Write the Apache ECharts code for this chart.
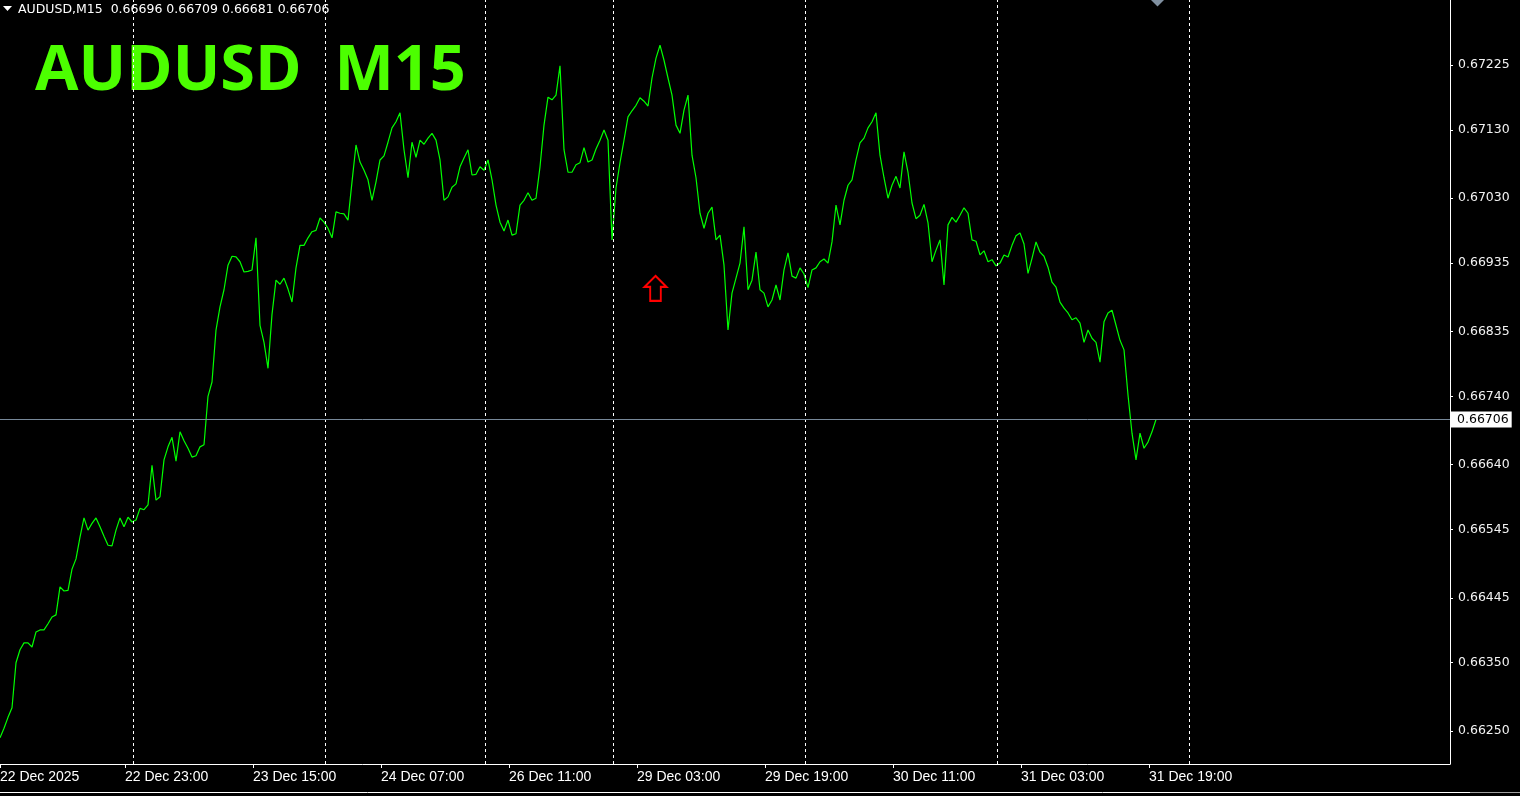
<!DOCTYPE html>
<html>
<head>
<meta charset="utf-8">
<script src="https://cdn.jsdelivr.net/npm/echarts@6/dist/echarts.min.js"></script>
<style>
html,body{margin:0;padding:0;background:#000;}
#chart{width:1520px;height:796px;}
</style>
</head>
<body>
<div id="chart"></div>
<script>
// ---------- data ----------
const symbolTitle = 'AUDUSD  M15';
const headerText = 'AUDUSD,M15  0.66696 0.66709 0.66681 0.66706';
const lastPrice = 0.66706;

// close prices sampled every 2 M15 bars, starting at the first visible bar
const BAR_STEP = 2;
const closes = [
  0.66240,0.66254,0.66270,0.66284,0.66350,0.66369,0.66379,0.66379,0.66373,0.66395,
  0.66398,0.66398,0.66407,0.66417,0.66420,0.66461,0.66455,0.66456,0.66487,0.66502,
  0.66534,0.66562,0.66544,0.66554,0.66562,0.66549,0.66535,0.66522,0.66521,0.66544,
  0.66562,0.66549,0.66563,0.66556,0.66559,0.66576,0.66574,0.66581,0.66639,0.66588,
  0.66593,0.66647,0.66666,0.66680,0.66645,0.66688,0.66675,0.66664,0.66651,0.66653,
  0.66666,0.66669,
  0.66740,0.66761,0.66837,0.66871,0.66896,0.66932,0.66945,0.66944,0.66937,0.66922,
  0.66923,0.66925,0.66972,0.66844,0.66819,0.66781,0.66860,0.66910,0.66904,0.66913,
  0.66897,0.66878,0.66928,0.66961,0.66961,0.66972,0.66981,0.66983,0.67001,0.66995,
  0.66986,0.66972,0.67010,0.67008,0.67007,0.66998,0.67054,0.67108,0.67083,0.67071,
  0.67057,0.67027,0.67054,0.67086,0.67092,0.67112,0.67133,0.67142,0.67155,0.67101,
  0.67060,0.67112,0.67090,0.67115,0.67109,0.67118,0.67125,0.67115,0.67086,0.67027,
  0.67032,0.67046,0.67051,0.67076,0.67089,0.67101,0.67064,0.67065,0.67076,0.67071,
  0.67086,0.67057,0.67020,0.66995,0.66982,0.66998,0.66976,0.66978,0.67020,0.67027,
  0.67038,0.67027,0.67030,0.67076,0.67137,0.67178,0.67174,0.67181,0.67224,0.67101,
  0.67068,0.67068,0.67079,0.67082,0.67104,0.67083,0.67086,0.67102,0.67115,0.67130,
  0.67115,0.66969,0.67045,0.67082,0.67115,0.67149,0.67158,0.67166,0.67177,0.67172,
  0.67165,0.67206,0.67235,0.67254,0.67232,0.67206,0.67181,0.67137,0.67125,0.67159,
  0.67181,0.67093,0.67060,0.67008,0.66986,0.67008,0.67017,0.66969,0.66976,0.66932,
  0.66837,0.66891,0.66913,0.66935,0.66988,0.66896,0.66910,0.66951,0.66896,0.66891,
  0.66871,0.66881,0.66903,0.66881,0.66925,0.66950,0.66916,0.66913,0.66928,0.66919,
  0.66899,0.66925,0.66928,0.66937,0.66941,0.66935,0.66966,0.67020,0.66991,0.67027,
  0.67049,0.67057,0.67086,0.67111,0.67118,0.67133,0.67142,0.67155,0.67093,0.67060,
  0.67030,0.67049,0.67062,0.67045,0.67098,0.67068,0.67023,0.67000,0.67005,0.67021,
  0.66994,0.66937,0.66954,0.66969,0.66903,0.66991,0.67002,0.66995,0.67005,0.67016,
  0.67008,0.66969,0.66967,0.66947,0.66953,0.66937,0.66940,0.66931,0.66935,0.66947,
  0.66944,0.66961,0.66975,0.66979,0.66963,0.66920,0.66942,0.66966,0.66951,0.66945,
  0.66929,0.66907,0.66900,0.66878,0.66869,0.66862,0.66852,0.66855,0.66847,0.66819,
  0.66837,0.66825,0.66819,0.66790,0.66849,0.66862,0.66866,0.66844,0.66822,0.66808,
  0.66742,0.66686,0.66647,0.66686,0.66664,0.66673,0.66688,0.66706
];

// time axis (in bars from the left edge of the window)
const visibleBars = 725;
const timeTickBars = [0, 62.5, 126.5, 190.5, 254.5, 318.5, 382.5, 446.5, 510.5, 574.5];
const timeTickLabels = ['22 Dec 2025','22 Dec 23:00','23 Dec 15:00','24 Dec 07:00','26 Dec 11:00',
  '29 Dec 03:00','29 Dec 19:00','30 Dec 11:00','31 Dec 03:00','31 Dec 19:00'];
const daySeparatorBars = [66.5, 162.5, 242.5, 306.5, 402.5, 498.5, 594.5];

// price axis
const priceMin = 0.662017;
const priceMax = 0.673202;
const priceTicks = [0.67225,0.67130,0.67030,0.66935,0.66835,0.66740,0.66640,0.66545,0.66445,0.66350,0.66250];

// arrow object
const arrowBar = 327.75;
const arrowPrice = 0.66898;

// ---------- chart ----------
const chart = echarts.init(document.getElementById('chart'), null, {renderer: 'canvas'});
const seriesData = closes.map((p, i) => [i * BAR_STEP, p]);

const option = {
  backgroundColor: '#000000',
  animation: false,
  grid: {left: 0, top: 0, right: 70, bottom: 32, containLabel: false, outerBoundsMode: 'none'},
  xAxis: {
    type: 'value', min: 0, max: visibleBars,
    axisLine: {show: true, onZero: false, lineStyle: {color: '#ffffff', width: 1}},
    axisTick: {show: true, customValues: timeTickBars, length: 4, inside: false, lineStyle: {color: '#ffffff'}},
    axisLabel: {
      show: true, customValues: timeTickBars, align: 'left', margin: 6,
      color: '#ffffff', fontFamily: '"Liberation Sans", Arial, sans-serif', fontSize: 14,
      formatter: v => { const i = timeTickBars.indexOf(v); return i >= 0 ? timeTickLabels[i] : ''; }
    },
    splitLine: {show: false}
  },
  yAxis: {
    type: 'value', position: 'right', min: priceMin, max: priceMax,
    axisLine: {show: true, onZero: false, lineStyle: {color: '#ffffff', width: 1}},
    axisTick: {show: true, customValues: priceTicks, length: 3, lineStyle: {color: '#ffffff'}},
    axisLabel: {
      show: true, customValues: priceTicks, margin: 8,
      color: '#f2f2f2', fontFamily: '"DejaVu Sans", sans-serif', fontSize: 12.5,
      formatter: v => v.toFixed(5)
    },
    splitLine: {show: false}
  },
  series: [{
    type: 'line',
    data: seriesData,
    showSymbol: false,
    symbol: 'none',
    lineStyle: {color: '#00ff00', width: 1.2},
    itemStyle: {color: '#00ff00'},
    silent: true,
    markLine: {
      silent: true,
      precision: 5,
      symbol: ['none', 'none'],
      animation: false,
      data: [
        ...daySeparatorBars.map(b => ({xAxis: b, lineStyle: {color: '#ffffff', type: [3, 3], width: 1}, label: {show: false}})),
        {yAxis: lastPrice, lineStyle: {color: '#778899', type: 'solid', width: 1},
         label: {show: true, position: 'end', distance: 1, formatter: lastPrice.toFixed(5),
                 backgroundColor: '#ffffff', color: '#000000', padding: [2, 3, 1, 6],
                 fontFamily: '"DejaVu Sans", sans-serif', fontSize: 12.5}}
      ]
    },
    markPoint: {
      silent: true,
      data: [{coord: [arrowBar, arrowPrice]}],
      symbol: 'path://M11,0 L22,11 L16.3,11 L16.3,25 L5.7,25 L5.7,11 L0,11 Z',
      symbolSize: [22, 25],
      itemStyle: {color: 'rgba(0,0,0,0)', borderColor: '#ff0000', borderWidth: 2},
      label: {show: false}
    }
  }],
  graphic: [
    {type: 'polygon', shape: {points: [[3, 6], [12, 6], [7.5, 11]]}, style: {fill: '#ffffff'}, silent: true},
    {type: 'text', x: 18, y: 10, silent: true,
     style: {text: headerText, fill: '#ffffff', font: '12.5px "DejaVu Sans", sans-serif', verticalAlign: 'middle', align: 'left'}},
    {type: 'text', x: 35, y: 72, silent: true,
     style: {text: symbolTitle, fill: '#4cff00', font: 'bold 63px "Open Sans", sans-serif', verticalAlign: 'middle', align: 'left'}},
    {type: 'polygon', shape: {points: [[1151, 0], [1164, 0], [1157.5, 6.5]]}, style: {fill: '#8090a0'}, silent: true},
    {type: 'line', shape: {x1: 0, y1: 792.5, x2: 1470, y2: 792.5}, style: {stroke: '#ffffff', lineWidth: 1}, silent: true},
    {type: 'line', shape: {x1: 1470, y1: 792.5, x2: 1520, y2: 792.5}, style: {stroke: '#a0a0a0', lineWidth: 1}, silent: true}
  ]
};
chart.setOption(option);
</script>
</body>
</html>
